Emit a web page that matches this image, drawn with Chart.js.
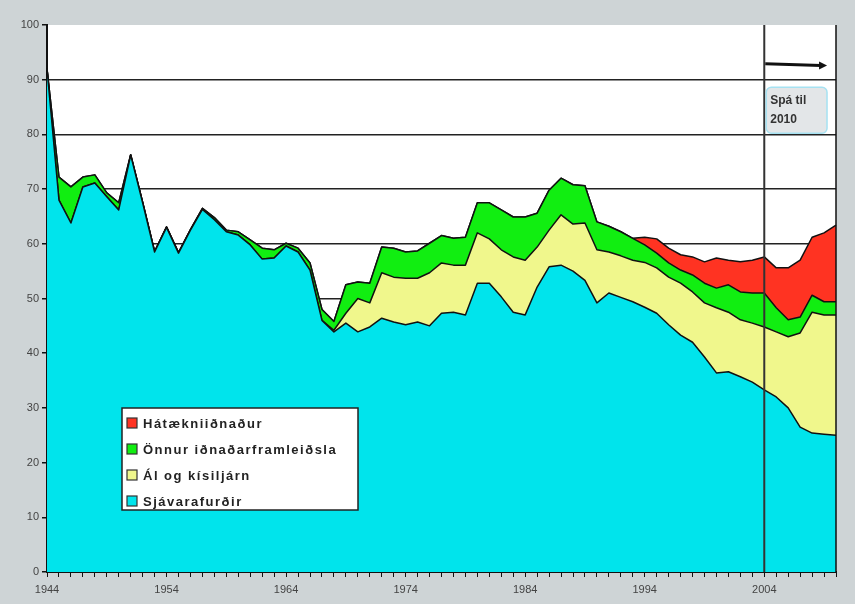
<!DOCTYPE html>
<html><head><meta charset="utf-8">
<script src="https://cdn.jsdelivr.net/npm/chart.js@4/dist/chart.umd.min.js"></script>
<style>html,body{margin:0;padding:0;background:#ced4d6;}canvas{display:block;}</style>
</head><body>
<canvas id="c" width="855" height="604"></canvas>
<script>
const years = [];
for (let y = 1944; y <= 2010; y++) years.push(String(y));

const seriesNames = ["Sjávarafurðir", "Ál og kísiljárn", "Önnur iðnaðarframleiðsla", "Hátækniiðnaður"];

const sjavarafurdir = [92,68,63.8,70.4,71.1,68.6,66.2,76.2,67.5,58.5,63,58.3,62.5,66.3,64.4,62.2,61.6,59.8,57.2,57.4,59.6,58.5,55.2,46,43.9,45.5,43.9,44.8,46.4,45.7,45.2,45.7,45.0,47.3,47.5,47,52.8,52.8,50.3,47.5,47,52.1,55.8,56.1,55,53.3,49.2,51,50.2,49.4,48.4,47.3,45.2,43.3,42,39.3,36.4,36.6,35.7,34.7,33.3,32,30,26.5,25.4,25.2,25];
const alKisiljarn = [0,0,0,0,0,0,0,0,0,0,0,0,0,0,0,0,0,0,0,0,0,0,0,0,0.3,1.8,6.1,4.4,8.3,8.2,8.5,8.0,9.7,9.2,8.6,9.1,9.2,8.1,8.6,10.1,10,7.3,6.7,9.2,8.6,10.5,9.7,7.5,7.6,7.6,8.2,8.3,8.7,9.5,9.2,9.9,11.9,10.9,10.4,10.8,11.5,11.9,13,17.2,22.1,21.8,22];
const onnurIdnadur = [0,4.2,6.6,1.8,1.5,0.7,1.3,0.1,0.1,0.1,0.1,0.1,0.1,0.2,0.4,0.3,0.6,0.9,2.0,1.5,0.5,0.7,1.3,2,1.6,5.2,3,3.6,4.7,5.3,4.8,5.0,5.4,5.0,4.9,5.1,5.5,6.6,7.3,7.3,7.9,6.2,7.3,6.7,7.2,6.8,5.1,4.7,4.4,4.0,3.2,2.7,2.6,2.4,3.1,3.6,3.6,5.0,5.1,5.5,6.2,4.4,3.1,2.9,3.1,2.4,2.4];
const hataekni = [0,0,0,0,0,0,0,0,0,0,0,0,0,0,0,0,0,0,0,0,0,0,0,0,0,0,0,0,0,0,0,0,0,0,0,0,0,0,0,0,0,0,0,0,0,0,0,0,0,0,1.4,2.6,2.7,2.8,3.3,3.9,5.5,4.5,5.5,6.0,6.6,7.3,9.5,10.4,10.6,12.6,14];

const yTicks = [0,10,20,30,40,50,60,70,80,90,100];
const forecastStart = "2004";
const forecastText = ["Spá til", "2010"];

const colors = ["#00e4ec", "#f0f78c", "#11ee11", "#ff3322"];

const bgPlugin = {
  id: 'bg',
  beforeDraw(chart) {
    const {ctx, chartArea: a} = chart;
    ctx.save();
    ctx.fillStyle = '#ced4d6';
    ctx.fillRect(0, 0, chart.width, chart.height);
    ctx.fillStyle = '#ffffff';
    ctx.fillRect(a.left, a.top, a.right - a.left, a.bottom - a.top);
    ctx.restore();
  }
};

const overlayPlugin = {
  id: 'overlay',
  afterDatasetsDraw(chart) {
    const {ctx, chartArea: a, scales: {x, y}} = chart;
    ctx.save();
    // right frame
    ctx.strokeStyle = '#111';
    ctx.lineWidth = 1.5;
    ctx.beginPath(); ctx.moveTo(a.right, a.top); ctx.lineTo(a.right, a.bottom); ctx.stroke();
    // forecast line
    const fi = years.indexOf(forecastStart);
    const fx = x.getPixelForValue(fi);
    ctx.strokeStyle = '#333';
    ctx.lineWidth = 2;
    ctx.beginPath(); ctx.moveTo(fx, a.top); ctx.lineTo(fx, a.bottom); ctx.stroke();
    // arrow
    const step = x.getPixelForValue(1) - x.getPixelForValue(0);
    const ax1 = fx + 1, ax2 = x.getPixelForValue(years.length - 1) - step * 0.75;
    const ay1 = y.getPixelForValue(92.9), ay2 = y.getPixelForValue(92.6);
    ctx.strokeStyle = '#111'; ctx.fillStyle = '#111';
    ctx.lineWidth = 3;
    ctx.beginPath(); ctx.moveTo(ax1, ay1); ctx.lineTo(ax2 - 6, ay2); ctx.stroke();
    ctx.beginPath(); ctx.moveTo(ax2, ay2); ctx.lineTo(ax2 - 8, ay2 - 4); ctx.lineTo(ax2 - 8, ay2 + 4); ctx.closePath(); ctx.fill();
    // box
    const bx = fx + 2, bw = ax2 - fx - 2;
    const by = y.getPixelForValue(88.6), bh = y.getPixelForValue(80.2) - by;
    ctx.beginPath();
    ctx.roundRect(bx, by, bw, bh, 5);
    ctx.fillStyle = '#e3e6e8'; ctx.fill();
    ctx.strokeStyle = '#a6e2f2'; ctx.lineWidth = 1.5; ctx.stroke();
    ctx.fillStyle = '#333';
    ctx.font = 'bold 12px "Liberation Sans", Arial, sans-serif';
    ctx.textBaseline = 'middle'; ctx.textAlign = 'left';
    ctx.fillText(forecastText[0], bx + 4, by + 13);
    ctx.fillText(forecastText[1], bx + 4, by + 32);
    // legend
    const lx = 122, ly = 408, lw = 236, lh = 102;
    ctx.fillStyle = '#fff';
    ctx.fillRect(lx, ly, lw, lh);
    ctx.strokeStyle = '#222'; ctx.lineWidth = 1.5;
    ctx.strokeRect(lx, ly, lw, lh);
    ctx.font = 'bold 13px "Liberation Sans", Arial, sans-serif';
    ctx.letterSpacing = '1.5px';
    const ds = chart.data.datasets;
    for (let k = 0; k < ds.length; k++) {
      const d = ds[ds.length - 1 - k];
      const ry = ly + 15 + k * 26;
      ctx.fillStyle = d.backgroundColor;
      ctx.fillRect(lx + 5, ry - 5, 10, 10);
      ctx.strokeStyle = '#333'; ctx.lineWidth = 1.2;
      ctx.strokeRect(lx + 5, ry - 5, 10, 10);
      ctx.fillStyle = '#222';
      ctx.fillText(d.label, lx + 21, ry + 1);
    }
    ctx.restore();
  }
};

const seriesData = [sjavarafurdir, alKisiljarn, onnurIdnadur, hataekni];
const datasets = seriesData.map((arr, i) => ({
  label: seriesNames[i],
  data: arr,
  backgroundColor: colors[i],
  borderColor: '#111',
  borderWidth: 1.5,
  pointRadius: 0,
  tension: 0,
  fill: i === 0 ? 'origin' : '-1'
}));

new Chart(document.getElementById('c'), {
  type: 'line',
  data: { labels: years, datasets },
  options: {
    responsive: false,
    animation: false,
    layout: { padding: { left: 0, top: 25, right: 19, bottom: 0 } },
    plugins: { legend: { display: false }, tooltip: { enabled: false } },
    elements: { line: { borderJoinStyle: 'round' } },
    scales: {
      x: {
        offset: false,
        grid: { drawOnChartArea: false, tickLength: 5, color: '#111', lineWidth: 1 },
        border: { color: '#111', width: 2 },
        ticks: {
          autoSkip: false, maxRotation: 0, padding: 6,
          color: '#444', font: { size: 11, family: '"Liberation Sans", Arial, sans-serif' },
          callback: (v, i) => ((i % 10) === 0 ? years[i] : '')
        },
        afterFit: s => { s.height = 32; }
      },
      y: {
        stacked: true,
        min: 0, max: 100,
        afterBuildTicks: s => { s.ticks = yTicks.map(v => ({ value: v })); },
        grid: {
          tickLength: 5,
          color: ctx => (ctx.tick && ctx.tick.value === 100 ? 'rgba(0,0,0,0)' : '#222'),
          tickColor: '#111',
          lineWidth: 1.5
        },
        border: { color: '#111', width: 2 },
        ticks: { padding: 3, color: '#444', font: { size: 11, family: '"Liberation Sans", Arial, sans-serif' } },
        afterFit: s => { s.width = 47; }
      }
    }
  },
  plugins: [bgPlugin, overlayPlugin]
});
</script>
</body></html>
